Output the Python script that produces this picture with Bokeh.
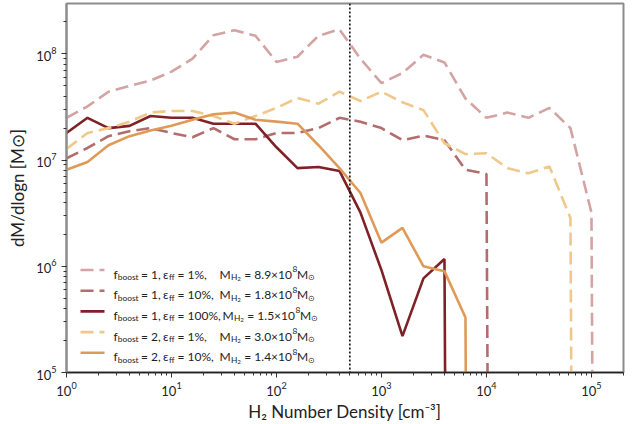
import numpy as np
from bokeh.plotting import figure
from bokeh.models import Label, Span, Arrow
from bokeh.embed import file_html
from bokeh.resources import INLINE

# ---------------- data ----------------
density = [1.0, 1.585, 2.512, 3.981, 6.310, 10.0, 15.85, 25.12, 39.81, 63.10,
           100.0, 158.5, 251.2, 398.1, 631.0, 1000.0, 1585.0, 2512.0, 3981.0, 6310.0,
           1.0e4, 1.585e4, 2.512e4, 3.981e4, 6.310e4, 1.0e5, 1.585e5]

dm_f1_e1 = [2.5e7, 3.2e7, 4.4e7, 5.0e7, 5.6e7, 6.8e7, 9.0e7, 1.5e8, 1.67e8, 1.48e8,
            8.4e7, 9.4e7, 1.48e8, 1.7e8, 9.0e7, 5.3e7, 6.6e7, 9.8e7, 8.3e7, 3.8e7,
            2.5e7, 2.8e7, 2.5e7, 3.1e7, 2.0e7, 3.2e6, 0.0]
dm_f1_e10 = [1.04e7, 1.3e7, 1.68e7, 1.87e7, 2.0e7, 1.8e7, 1.64e7, 2.0e7, 1.57e7, 1.57e7,
             1.8e7, 1.8e7, 2.0e7, 2.5e7, 2.3e7, 2.0e7, 1.54e7, 1.7e7, 1.54e7, 8.1e6,
             7.4e6, 0.0]
dm_f1_e100 = [1.8e7, 2.5e7, 2.0e7, 2.1e7, 2.6e7, 2.5e7, 2.5e7, 2.2e7, 2.2e7, 2.2e7,
              1.32e7, 8.4e6, 8.6e6, 7.9e6, 3.2e6, 9.2e5, 2.2e5, 7.7e5, 1.17e6, 0.0]
dm_f2_e1 = [1.27e7, 1.8e7, 2.0e7, 2.3e7, 2.8e7, 2.9e7, 2.9e7, 2.6e7, 2.2e7, 2.6e7,
            3.1e7, 3.85e7, 3.4e7, 4.4e7, 3.6e7, 4.4e7, 3.5e7, 2.95e7, 1.44e7, 1.14e7,
            1.16e7, 8.4e6, 7.5e6, 8.7e6, 2.85e6, 0.0]
dm_f2_e10 = [8.1e6, 9.6e6, 1.38e7, 1.68e7, 1.9e7, 2.1e7, 2.4e7, 2.7e7, 2.8e7, 2.4e7,
             2.3e7, 2.2e7, 1.38e7, 8.4e6, 4.9e6, 1.67e6, 2.3e6, 1.0e6, 9.0e5, 3.3e5, 0.0]

threshold_density = 500.0

f_boost = ["1", "1", "1", "2", "2"]
eps_ff = ["1%", "10%", "100%", "1%", "10%"]
m_h2 = ["8.9", "1.8", "1.5", "3.0", "1.4"]

series = [dm_f1_e1, dm_f1_e10, dm_f1_e100, dm_f2_e1, dm_f2_e10]
colors = ["#d4a3a3", "#b36d6d", "#7f2228", "#f0c88a", "#e09a58"]
dashes = ["13 6", "13 6", "solid", "13 6", "solid"]

# ---------------- figure ----------------
FONT = "Lato"
p = figure(width=634, height=424, x_axis_type="log", y_axis_type="log",
           x_range=(1.0, 2.02e5), y_range=(1.0e5, 2.98e8),
           output_backend="svg", toolbar_location=None,
           min_border_left=66, min_border_right=11, min_border_top=3, min_border_bottom=51)
p.xgrid.visible = False
p.ygrid.visible = False
p.background_fill_color = "white"
p.border_fill_color = "white"
p.outline_line_color = "#8c8c8c"
p.outline_line_width = 2

for ax in (p.xaxis, p.yaxis):
    ax.major_label_text_font = FONT
    ax.major_label_text_font_size = "13px"
    ax.major_label_text_color = "#222222"
    ax.major_tick_in = 0
    ax.major_tick_out = 5
    ax.minor_tick_in = 0
    ax.minor_tick_out = 3
    ax.major_tick_line_color = "#333333"
    ax.minor_tick_line_color = "#333333"
    ax.axis_label_text_font = FONT
    ax.axis_label_text_font_size = "17px"
    ax.axis_label_text_font_style = "normal"
    ax.axis_label_text_color = "#222222"
p.xaxis.axis_line_color = "#222222"
p.xaxis.axis_line_width = 1.3
p.yaxis.axis_line_color = "#8c8c8c"
p.yaxis.axis_line_width = 2
p.xaxis.axis_label = "H₂ Number Density [cm⁻³]"
p.yaxis.axis_label = "dM/dlogn [M⊙]"
p.xaxis.major_label_standoff = 4
p.xaxis.axis_label_standoff = 2
p.yaxis.axis_label_standoff = 5

for vals, col, dash in zip(series, colors, dashes):
    y = np.array(vals, dtype=float)
    y = np.where(y > 0, y, 1e-30)   # zero bins drop off the log axis
    x = np.array(density[:len(vals)])
    p.line(x, y, line_color=col, line_width=2.6, line_dash=dash)

p.add_layout(Span(location=threshold_density, dimension="height", line_color="black",
                  line_width=1.5, line_dash="2 2"))

# ---------------- legend (composed texts) ----------------
FX, FB = 66.0, 373.0  # frame left / bottom in page pixels


def put(text, x, base, size, align="left"):
    p.add_layout(Label(x=x - FX, y=FB - base, x_units="screen", y_units="screen",
                       text=text, text_font=FONT, text_font_size=f"{size}px",
                       text_color="#222222", text_align=align, text_baseline="alphabetic"))


MAIN, SUB, SUBSUB = 12, 8.4, 6.2
row_y = [270.5, 291.2, 311.9, 332.6, 353.3]
for i in range(5):
    Y = row_y[i]
    p.add_layout(Arrow(x_start=80 - FX, y_start=FB - Y, x_end=104 - FX, y_end=FB - Y,
                       start_units="screen", end_units="screen", start=None, end=None,
                       line_color=colors[i], line_width=2.6, line_dash=dashes[i]))
    b = Y + 4
    put("f", 113, b, MAIN)
    put("boost", 117.3, b + 3, SUB)
    put(f"= {f_boost[i]},", 140.5, b, MAIN)
    put("ε", 162.5, b, MAIN)
    put("ff", 168.5, b + 3, SUB)
    put(f"= {eps_ff[i]},", 177, b, MAIN)
    dx = 3 if eps_ff[i] == "100%" else 0
    put("M", 219 + dx, b, MAIN)
    put("H", 230.5 + dx, b + 3, SUB)
    put("2", 236.8 + dx, b + 5, SUBSUB)
    put(f"= {m_h2[i]}×10", 291.5 + dx, b, MAIN, align="right")
    put("8", 292 + dx, b - 5, SUB)
    put("M", 296.5 + dx, b, MAIN)
    put("⊙", 307.5 + dx, b + 3, SUB)

open("out.html", "w").write(file_html(p, INLINE))
